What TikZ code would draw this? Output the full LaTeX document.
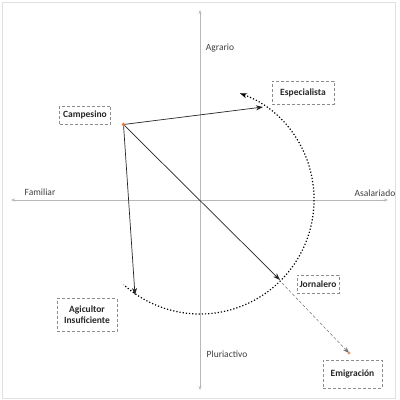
\documentclass[tikz,border=0pt]{standalone}
\usepackage{fontspec}
\setmainfont{Carlito}
\usetikzlibrary{arrows.meta}
\definecolor{axisgray}{HTML}{B8B8B8}
\definecolor{boxgray}{HTML}{8C8C8C}
\definecolor{txtgray}{HTML}{404040}
\definecolor{dotorange}{HTML}{E07A3A}
\tikzset{
  lbl/.style={font=\fontsize{9.5}{11}\selectfont, text=txtgray, inner sep=0pt},
  box/.style={draw=boxgray, densely dashed, line width=0.5pt, font=\fontsize{9.5}{11}\selectfont\bfseries, text=black!85, align=center, inner sep=1pt},
  axis/.style={draw=axisgray, line width=0.6pt, {Stealth[length=4pt,width=3pt]}-{Stealth[length=4pt,width=3pt]}},
  conn/.style={draw=black!85, line width=0.7pt, -{Stealth[length=7pt,width=5pt,inset=2pt]}},
  emig/.style={draw=black!55, line width=0.5pt, densely dashed, -{Stealth[length=6pt,width=4.5pt,inset=2pt]}},
  circ/.style={draw=black, line width=1.2pt, dotted, {Stealth[length=7pt,width=5pt,inset=2pt]}-}
}
\begin{document}
\begin{tikzpicture}[x=1pt,y=-1pt]
\useasboundingbox (0,0) rectangle (400,400);
\fill[white] (0,0) rectangle (400,400);
\draw[black!12, line width=0.8pt] (2,2) rectangle (395,398);
% axes
\coordinate (xl) at (11,200); \coordinate (xr) at (388,200);
\coordinate (yt) at (200,10); \coordinate (yb) at (200,390);
\draw[axis] (xl) -- (xr);
\draw[axis] (yt) -- (yb);
% axis labels
\node[lbl] (agr) at (220,48) {Agrario};
\node[lbl] (asa) at (375,193) {Asalariado};
\node[lbl] (fam) at (40,192) {Familiar};
\node[lbl] (plu) at (227,354) {Pluriactivo};
% boxes
\node[box, minimum width=51pt, minimum height=18pt] (camp) at (85,115) {Campesino};
\node[box, minimum width=62pt, minimum height=23pt] (esp) at (303,92.5) {Especialista};
\node[box, minimum width=42pt, minimum height=18pt] (jor) at (318,284) {Jornalero};
\node[box, minimum width=59pt, minimum height=28pt] (emi) at (352.5,374) {Emigración};
\node[box, minimum width=60pt, minimum height=33pt] (agi) at (87,315) {Agicultor\\Insuficiente};
% points
\coordinate (c0) at (123.5,124.5);
\coordinate (eEsp) at (263,107);
\coordinate (eAgi) at (135,295);
\coordinate (eJor) at (280,280);
\coordinate (sEm) at (282,283);
\coordinate (eEm) at (349,353);
% circular dotted arc
\draw[circ] (200,200) ++(-69.5:114) arc[start angle=-69.5, end angle=132, radius=114];
% connectors
\draw[conn] (c0) -- (eEsp);
\draw[conn] (c0) -- (eAgi);
\draw[conn] (c0) -- (eJor);
\draw[emig] (sEm) -- (eEm);
\fill[dotorange] (c0) circle (1.8);
\fill[dotorange!80] (eEm) circle (1.6);
\end{tikzpicture}
\end{document}
